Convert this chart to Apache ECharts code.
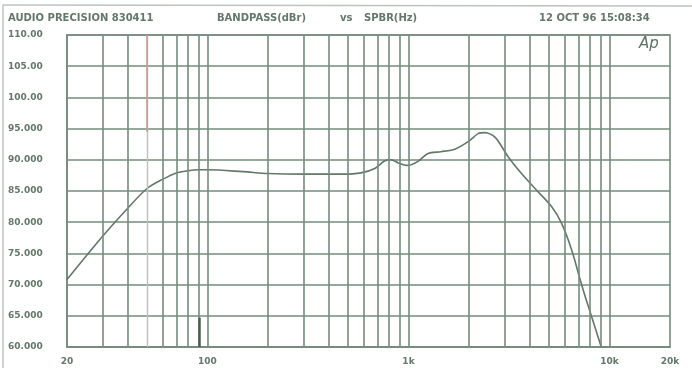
<!DOCTYPE html>
<html>
<head>
<meta charset="utf-8">
<style>
  html, body { margin: 0; padding: 0; background: #fff; }
  #chart { width: 692px; height: 368px; }
</style>
<script src="https://cdn.jsdelivr.net/npm/echarts@6/dist/echarts.min.js"></script>
</head>
<body>
<div id="chart"></div>
<script>
// response curve (Hz / dBr)
const freqHz = [20, 30, 40, 50, 60, 70, 80, 90, 100, 150, 200, 300, 400, 470, 580, 680, 760, 820, 890, 990, 1110, 1250, 1450, 1700, 1980, 2220, 2400, 2700, 3130, 3650, 4260, 5150, 5780, 6490, 7160, 7570, 9100];
const levelDb = [70.8, 77.7, 82.2, 85.4, 86.9, 87.9, 88.25, 88.4, 88.4, 88.1, 87.8, 87.7, 87.7, 87.7, 87.9, 88.6, 89.8, 90.0, 89.5, 89.1, 89.7, 91.0, 91.3, 91.7, 92.9, 94.2, 94.35, 93.6, 90.5, 87.8, 85.4, 82.5, 79.8, 75.5, 70.7, 68.1, 60.0];

// log grid lines (2..9 per decade)
const gridFreqs = [30, 40, 50, 60, 70, 80, 90, 100, 200, 300, 400, 500, 600, 700, 800, 900, 1000,
  2000, 3000, 4000, 5000, 6000, 7000, 8000, 9000, 10000];
const xTickValues = [20, 100, 1000, 10000, 20000];
const xTickText = ['20', '100', '1k', '10k', '20k'];
const yTickText = ['60.000', '65.000', '70.000', '75.000', '80.000', '85.000', '90.000', '95.000', '100.00', '105.00', '110.00'];

const GRID = '#758b7c';
const INK = '#63776a';

const chart = echarts.init(document.getElementById('chart'));

const gridLines = gridFreqs.map(f => {
  if (f === 50) return { xAxis: f, lineStyle: { color: '#b9c2bb', width: 1.4 } };
  return { xAxis: f };
});
// faint red cursor at 50 Hz and a dark scratch near 90 Hz
gridLines.push([{ coord: [50, 110], lineStyle: { color: '#cc948e', width: 1.5 } }, { coord: [50, 94.5] }]);
gridLines.push([{ coord: [91.5, 60], lineStyle: { color: '#4c5d51', width: 2.5 } }, { coord: [91.5, 64.7] }]);

const labelFont = { color: INK, fontFamily: 'DejaVu Sans', fontWeight: 'bold', fontSize: 9 };
const headFont = 'bold 10px "DejaVu Sans"';

chart.setOption({
  backgroundColor: '#ffffff',
  animation: false,
  grid: { left: 67, right: 22, top: 35, bottom: 21, show: true, borderColor: GRID, borderWidth: 1.6 },
  xAxis: {
    type: 'log',
    logBase: 10,
    min: 20,
    max: 20000,
    axisLine: { show: true, lineStyle: { color: GRID, width: 1.6 } },
    axisTick: { show: false },
    splitLine: { show: false },
    axisLabel: Object.assign({
      customValues: xTickValues,
      margin: 10,
      formatter: v => {
        const i = xTickValues.findIndex(t => Math.abs(t - v) / t < 1e-6);
        return i >= 0 ? xTickText[i] : '';
      }
    }, labelFont)
  },
  yAxis: {
    type: 'value',
    min: 60,
    max: 110,
    interval: 5,
    axisLine: { show: true, lineStyle: { color: GRID, width: 1.6 } },
    axisTick: { show: false },
    splitLine: { show: true, lineStyle: { color: GRID, width: 1.6 } },
    axisLabel: Object.assign({
      align: 'left',
      margin: 59,
      formatter: v => yTickText[Math.round((v - 60) / 5)]
    }, labelFont)
  },
  graphic: [
    { type: 'line', shape: { x1: 3, y1: 5, x2: 3, y2: 368 }, style: { stroke: '#b3bbb5', lineWidth: 1.3 } },
    { type: 'line', shape: { x1: 3, y1: 5, x2: 692, y2: 6 }, style: { stroke: '#bcc3bd', lineWidth: 1.3 } },
    { type: 'text', left: 8, top: 13, style: { text: 'AUDIO PRECISION 830411', fill: INK, font: headFont } },
    { type: 'text', left: 217, top: 13, style: { text: 'BANDPASS(dBr)', fill: INK, font: headFont } },
    { type: 'text', left: 340, top: 13, style: { text: 'vs', fill: INK, font: headFont } },
    { type: 'text', left: 364, top: 13, style: { text: 'SPBR(Hz)', fill: INK, font: headFont } },
    { type: 'text', left: 539, top: 13, style: { text: '12 OCT 96 15:08:34', fill: INK, font: headFont } },
    { type: 'text', left: 639, top: 37, style: { text: 'Ap', fill: '#5f7365', font: 'italic 15px "DejaVu Sans"' } }
  ],
  series: [{
    type: 'line',
    data: freqHz.map((f, i) => [f, levelDb[i]]),
    showSymbol: false,
    smooth: 0.3,
    clip: true,
    lineStyle: { color: INK, width: 1.6 },
    markLine: {
      silent: true,
      symbol: 'none',
      label: { show: false },
      lineStyle: { color: GRID, width: 1.6, type: 'solid' },
      data: gridLines
    },
    z: 3
  }]
});
</script>
</body>
</html>
